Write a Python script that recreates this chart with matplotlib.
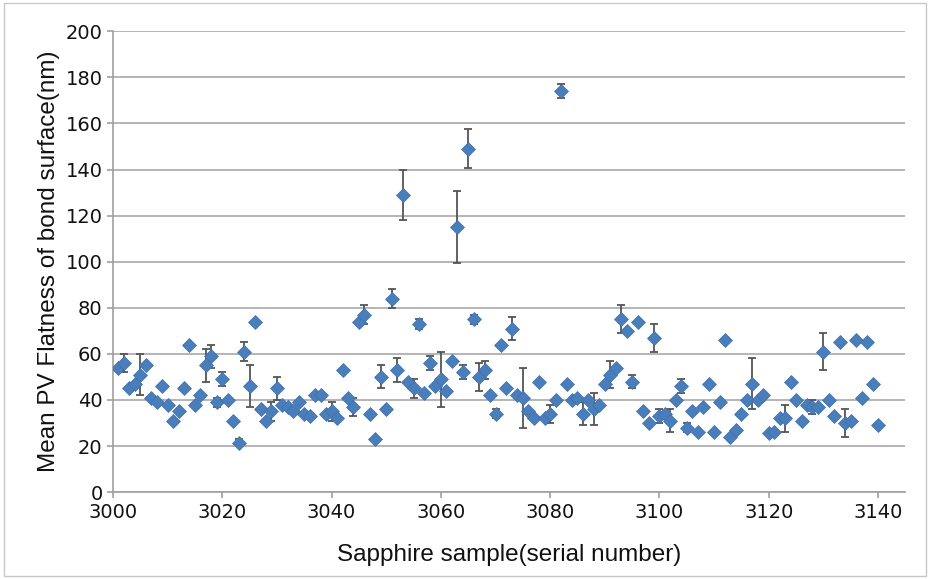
import numpy as np
import matplotlib
matplotlib.use("Agg")
import matplotlib.pyplot as plt
from matplotlib.patches import Rectangle

# serial numbers 3001..3140
serial = np.arange(3001, 3141)

flatness = [
    54, 56, 45, 47, 51, 55, 41, 39, 46, 38,
    31, 35, 45, 64, 38, 42, 55, 59, 39, 49,
    40, 31, 21.5, 61, 46, 74, 36, 31, 35, 45,
    38, 37, 35, 39, 34, 33, 42, 42, 34, 35,
    32, 53, 41, 37, 74, 77, 34, 23, 50, 36,
    84, 53, 129, 48, 45, 73, 43, 56, 46, 49,
    44, 57, 115, 52, 149, 75, 50, 53, 42, 34,
    64, 45, 71, 42, 41, 35, 32, 48, 32, 34,
    40, 174, 47, 40, 41, 34, 40, 36, 38, 47,
    51, 54, 75, 70, 48, 74, 35, 30, 67, 33,
    34, 31, 40, 46, 28, 35, 26, 37, 47, 26,
    39, 66, 24, 27, 34, 40, 47, 40, 42, 25.5,
    26, 32, 32, 48, 40, 31, 38, 37, 37, 61,
    40, 33, 65, 30, 31, 66, 41, 65, 47, 29,
]

# error bar half-widths (0 = no visible bar)
errors = [
    0, 4, 0, 0, 9, 0, 0, 0, 0, 0,
    0, 0, 0, 0, 0, 0, 7, 5, 2, 3,
    0, 0, 1.5, 4, 9, 0, 0, 0, 4, 5,
    0, 0, 0, 0, 0, 0, 0, 0, 0, 4,
    0, 0, 0, 4, 0, 4, 0, 0, 5, 0,
    4, 5, 11, 0, 4, 2, 0, 3, 0, 12,
    0, 0, 15.5, 3, 8.5, 2, 6, 4, 0, 2,
    0, 0, 5, 0, 13, 0, 0, 0, 0, 4,
    0, 3, 0, 0, 0, 5, 0, 7, 0, 0,
    6, 0, 6, 0, 3, 0, 0, 0, 6, 3,
    0, 5, 0, 3, 2, 0, 0, 0, 0, 0,
    0, 0, 0, 0, 0, 0, 11, 0, 0, 0,
    0, 0, 6, 0, 0, 0, 0, 3, 0, 8,
    0, 0, 0, 6, 0, 0, 0, 0, 0, 0,
]

xticks = [3000, 3020, 3040, 3060, 3080, 3100, 3120, 3140]
yticks = list(range(0, 201, 20))

fig = plt.figure(figsize=(9.3, 5.79), dpi=100)
fig.patches.append(Rectangle((0.004, 0.006), 0.992, 0.988, transform=fig.transFigure,
                             fill=False, edgecolor='#c8c8c8', linewidth=1.0))
ax = fig.add_axes([0.1215, 0.150, 0.852, 0.796])

ax.errorbar(serial, flatness, yerr=errors, fmt='none', ecolor='#555555',
            elinewidth=1.3, capsize=3, capthick=1.3, zorder=2)
ax.plot(serial, flatness, linestyle='none', marker='D', markersize=7.5,
        color='#4a7ebb', markeredgecolor='#3d6fae', markeredgewidth=0.5, zorder=3)

ax.set_xlim(3000, 3145)
ax.set_ylim(0, 200)
ax.set_xticks(xticks)
ax.set_yticks(yticks)
ax.yaxis.grid(True, color='#b4b4b4', linewidth=1.4)
ax.set_axisbelow(True)

for side in ['top', 'right']:
    ax.spines[side].set_visible(False)
for side in ['left', 'bottom']:
    ax.spines[side].set_color('#a0a0a0')
    ax.spines[side].set_linewidth(1.2)

ax.tick_params(axis='both', colors='#a0a0a0', length=4, width=1.2, labelcolor='#111111',
               labelsize=14)
for lab in ax.get_xticklabels() + ax.get_yticklabels():
    lab.set_family(['Liberation Sans Narrow', 'DejaVu Sans'])

ax.set_xlabel('Sapphire sample(serial number)', fontsize=17.5, color='#111111',
              family=['Liberation Sans', 'DejaVu Sans'], labelpad=16)
ax.set_ylabel('Mean PV Flatness of bond surface(nm)', fontsize=17.5, color='#111111',
              family=['Liberation Sans', 'DejaVu Sans'], labelpad=4)

fig.savefig('out.png', dpi=100)
